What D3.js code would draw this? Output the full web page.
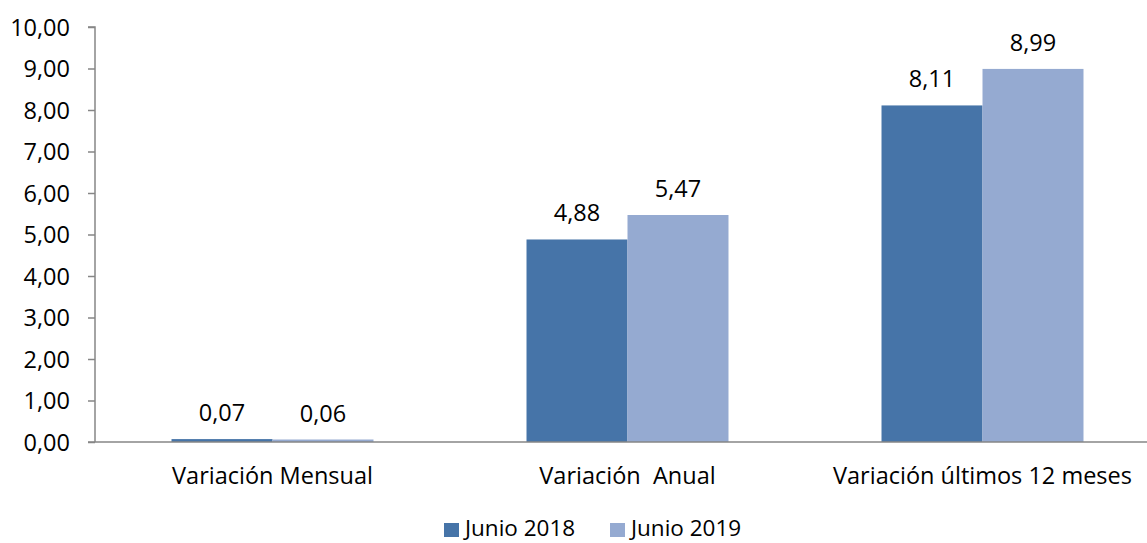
<!DOCTYPE html>
<html>
<head>
<meta charset="utf-8">
<script src="https://cdn.jsdelivr.net/npm/d3@7"></script>
<style>
  body { margin: 0; background: #fff; }
  text { font-family: "Open Sans", Lato, sans-serif; fill: #000; }
</style>
</head>
<body>
<div id="chart"></div>
<script>
// chart values
var categories = ["Variación Mensual", "Variación  Anual", "Variación últimos 12 meses"];
var seriesNames = ["Junio 2018", "Junio 2019"];
var junio2018 = [0.07, 4.88, 8.11];
var junio2019 = [0.06, 5.47, 8.99];
var yTicks = [0, 1, 2, 3, 4, 5, 6, 7, 8, 9, 10];
var colors = ["#4674a8", "#95aad1"];

var width = 1147, height = 543;
var fontSize = "23.5px";
var svg = d3.select("#chart").append("svg")
    .attr("width", width)
    .attr("height", height);

var x0 = d3.scaleBand()
    .domain(categories)
    .range([95, 1160])
    .paddingInner(0.431)
    .paddingOuter(0.2155);

var x1 = d3.scaleBand()
    .domain(seriesNames)
    .range([0, x0.bandwidth()]);

var y = d3.scaleLinear()
    .domain([0, 10])
    .range([442, 27]);

var fmt = function(v) { return d3.format(".2f")(v).replace(".", ","); };

// y axis
var yAxis = svg.append("g")
    .attr("transform", "translate(95,0)")
    .call(d3.axisLeft(y).tickValues(yTicks).tickSize(7).tickPadding(18).tickFormat(fmt));
yAxis.selectAll("path, line").attr("stroke", "#868686").attr("stroke-width", 1.5);
yAxis.select(".domain").attr("d", "M-7," + y(10) + "H0V" + y(0));
yAxis.selectAll("text").style("font-size", fontSize).attr("fill", "#000").attr("dy", "0.34em");

// bars
var rows = categories.map(function(c, i) {
    return { cat: c, vals: [junio2018[i], junio2019[i]] };
});

var groups = svg.selectAll("g.grp")
    .data(rows)
    .enter().append("g")
    .attr("class", "grp")
    .attr("transform", function(d) { return "translate(" + x0(d.cat) + ",0)"; });

groups.selectAll("rect")
    .data(function(d) { return d.vals.map(function(v, j) { return { s: seriesNames[j], v: v, j: j }; }); })
    .enter().append("rect")
    .attr("x", function(d) { return x1(d.s); })
    .attr("y", function(d) { return y(d.v); })
    .attr("width", x1.bandwidth())
    .attr("height", function(d) { return y(0) - y(d.v); })
    .attr("fill", function(d) { return colors[d.j]; });

groups.selectAll("text.val")
    .data(function(d) { return d.vals.map(function(v, j) { return { s: seriesNames[j], v: v }; }); })
    .enter().append("text")
    .attr("class", "val")
    .attr("x", function(d) { return x1(d.s) + x1.bandwidth() / 2; })
    .attr("y", function(d) { return y(d.v) - 18; })
    .attr("text-anchor", "middle")
    .style("font-size", fontSize)
    .text(function(d) { return fmt(d.v); });

// baseline
svg.append("line")
    .attr("x1", 88).attr("x2", width)
    .attr("y1", y(0)).attr("y2", y(0))
    .attr("stroke", "#868686").attr("stroke-width", 1.5);

// category labels
svg.selectAll("text.cat")
    .data(categories)
    .enter().append("text")
    .attr("class", "cat")
    .attr("x", function(d) { return x0(d) + x0.bandwidth() / 2; })
    .attr("y", 484)
    .attr("text-anchor", "middle")
    .style("font-size", fontSize)
    .style("white-space", "pre")
    .text(function(d) { return d; });

// legend
var legendX = [444, 610];
var legend = svg.selectAll("g.leg")
    .data(seriesNames)
    .enter().append("g")
    .attr("class", "leg")
    .attr("transform", function(d, i) { return "translate(" + legendX[i] + ",0)"; });
legend.append("rect")
    .attr("x", 0).attr("y", 523)
    .attr("width", 15).attr("height", 14)
    .attr("fill", function(d, i) { return colors[i]; });
legend.append("text")
    .attr("x", 21).attr("y", 536)
    .style("font-size", "22.5px")
    .text(function(d) { return d; });
</script>
</body>
</html>
